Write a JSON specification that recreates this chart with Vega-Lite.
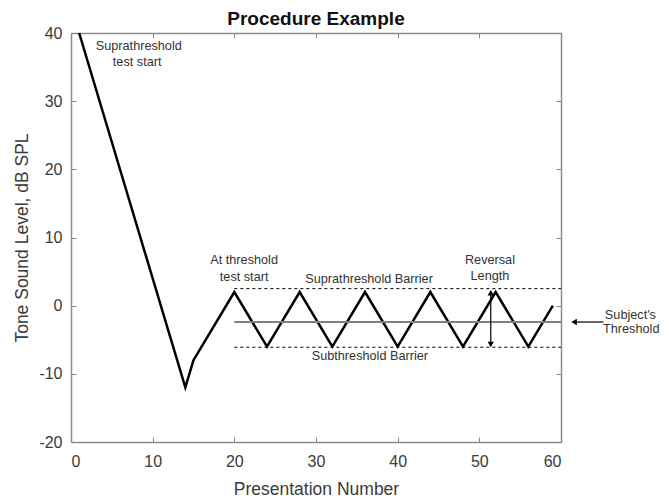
{
  "$schema": "https://vega.github.io/schema/vega-lite/v6.json",
  "width": 490,
  "height": 409,
  "autosize": "none",
  "padding": {"left": 71, "top": 33, "right": 108, "bottom": 61},
  "background": "white",
  "config": {
    "view": {"stroke": null},
    "font": "Liberation Sans",
    "axis": {
      "grid": false,
      "domainColor": "#8a8a8a",
      "domainWidth": 1.5,
      "tickColor": "#8a8a8a",
      "tickSize": -5,
      "tickWidth": 1,
      "labelColor": "#3a3a3a",
      "labelFont": "Liberation Sans",
      "labelFontSize": 16,
      "labelPadding": 11,
      "labelExpr": "datum.value < 0 ? '-' + abs(datum.value) : datum.label",
      "titleColor": "#3a3a3a",
      "titleFont": "Liberation Sans",
      "titleFontSize": 17.5,
      "titleFontWeight": "normal"
    }
  },
  "title": {
    "text": "Procedure Example",
    "font": "Liberation Sans",
    "fontSize": 19,
    "fontWeight": "bold",
    "color": "#111111",
    "anchor": "middle",
    "offset": -4
  },
  "datasets": {
    "track": [
      {"x": 1, "y": 40}, {"x": 14, "y": -12}, {"x": 15, "y": -8}, {"x": 20, "y": 2},
      {"x": 24, "y": -6}, {"x": 28, "y": 2}, {"x": 32, "y": -6}, {"x": 36, "y": 2},
      {"x": 40, "y": -6}, {"x": 44, "y": 2}, {"x": 48, "y": -6}, {"x": 52, "y": 2},
      {"x": 56, "y": -6}, {"x": 59, "y": 0}
    ],
    "barriers": [
      {"x": 20, "x2": 60, "y": 2.5},
      {"x": 20, "x2": 60, "y": -6.1}
    ],
    "threshold": [
      {"x": 20, "x2": 60, "y": -2.4}
    ],
    "arrowLines": [
      {"x": 61.6, "x2": 65.2, "y": -2.4, "y2": -2.4},
      {"x": 51.4, "x2": 51.4, "y": 2.1, "y2": -5.6}
    ],
    "heads": [
      {"x": 61.6, "y": -2.4, "dir": "left"},
      {"x": 51.4, "y": 1.9, "dir": "up"},
      {"x": 51.4, "y": -5.7, "dir": "down"}
    ],
    "labels": [
      {"x": 8.3, "y": 38.1, "label": "Suprathreshold"},
      {"x": 8.1, "y": 35.7, "label": "test start"},
      {"x": 21.2, "y": 6.64, "label": "At threshold"},
      {"x": 21.2, "y": 4.25, "label": "test start"},
      {"x": 36.5, "y": 3.96, "label": "Suprathreshold Barrier"},
      {"x": 36.6, "y": -7.39, "label": "Subthreshold Barrier"},
      {"x": 51.3, "y": 6.64, "label": "Reversal"},
      {"x": 51.3, "y": 4.34, "label": "Length"},
      {"x": 68.5, "y": -1.42, "label": "Subject's"},
      {"x": 68.6, "y": -3.48, "label": "Threshold"}
    ]
  },
  "resolve": {"axis": {"x": "independent", "y": "independent"}},
  "layer": [
    {
      "data": {"name": "track"},
      "mark": {"type": "line", "color": "black", "strokeWidth": 2.5, "strokeJoin": "miter"},
      "encoding": {
        "x": {"field": "x", "type": "quantitative",
              "scale": {"domain": [0, 60], "nice": false, "zero": false},
              "axis": {"orient": "bottom", "title": "Presentation Number", "values": [0, 10, 20, 30, 40, 50, 60], "labelPadding": 16, "titleY": 38}},
        "y": {"field": "y", "type": "quantitative",
              "scale": {"domain": [-20, 40], "nice": false, "zero": false},
              "axis": {"orient": "left", "title": "Tone Sound Level, dB SPL", "values": [-20, -10, 0, 10, 20, 30, 40], "labelPadding": 14, "titleX": -40}}
      }
    },
    {
      "data": {"name": "barriers"},
      "mark": {"type": "rule", "color": "black", "strokeWidth": 1, "strokeDash": [3, 3]},
      "encoding": {
        "x": {"field": "x", "type": "quantitative",
              "scale": {"domain": [0, 60], "nice": false, "zero": false},
              "axis": {"orient": "top", "title": null, "labels": false, "values": [0, 10, 20, 30, 40, 50, 60]}},
        "x2": {"field": "x2"},
        "y": {"field": "y", "type": "quantitative",
              "scale": {"domain": [-20, 40], "nice": false, "zero": false},
              "axis": {"orient": "right", "title": null, "labels": false, "values": [-20, -10, 0, 10, 20, 30, 40]}}
      }
    },
    {
      "data": {"name": "threshold"},
      "mark": {"type": "rule", "color": "#808080", "strokeWidth": 2},
      "encoding": {
        "x": {"field": "x", "type": "quantitative", "scale": {"domain": [0, 60], "nice": false}, "axis": null},
        "x2": {"field": "x2"},
        "y": {"field": "y", "type": "quantitative", "scale": {"domain": [-20, 40], "nice": false}, "axis": null}
      }
    },
    {
      "data": {"name": "arrowLines"},
      "mark": {"type": "rule", "color": "black", "strokeWidth": 1.2},
      "encoding": {
        "x": {"field": "x", "type": "quantitative", "scale": {"domain": [0, 60], "nice": false}, "axis": null},
        "x2": {"field": "x2"},
        "y": {"field": "y", "type": "quantitative", "scale": {"domain": [-20, 40], "nice": false}, "axis": null},
        "y2": {"field": "y2"}
      }
    },
    {
      "data": {"name": "heads"},
      "mark": {"type": "point", "filled": true, "color": "black", "size": 40, "opacity": 1},
      "encoding": {
        "x": {"field": "x", "type": "quantitative", "scale": {"domain": [0, 60], "nice": false}, "axis": null},
        "y": {"field": "y", "type": "quantitative", "scale": {"domain": [-20, 40], "nice": false}, "axis": null},
        "shape": {"field": "dir", "type": "nominal",
                  "scale": {"domain": ["left", "up", "down"], "range": ["triangle-left", "triangle-up", "triangle-down"]},
                  "legend": null}
      }
    },
    {
      "data": {"name": "labels"},
      "mark": {"type": "text", "font": "Liberation Sans", "fontSize": 12.7, "color": "#333333", "align": "center", "baseline": "middle"},
      "encoding": {
        "x": {"field": "x", "type": "quantitative", "scale": {"domain": [0, 60], "nice": false}, "axis": null},
        "y": {"field": "y", "type": "quantitative", "scale": {"domain": [-20, 40], "nice": false}, "axis": null},
        "text": {"field": "label", "type": "nominal"}
      }
    }
  ]
}
